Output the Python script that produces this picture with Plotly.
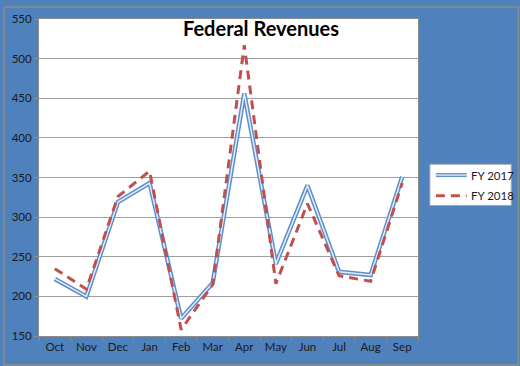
import plotly.graph_objects as go

months = ["Oct", "Nov", "Dec", "Jan", "Feb", "Mar", "Apr", "May", "Jun", "Jul", "Aug", "Sep"]
fy2017 = [222, 200, 319, 343, 172, 217, 456, 241, 340, 231, 227, 351]
fy2018 = [235, 209, 326, 358, 158, 215, 517, 216, 317, 226, 219, 343]
y_ticks = [150, 200, 250, 300, 350, 400, 450, 500, 550]

W, H = 520, 366
L, R, T, B = 36, 102, 13, 30
pw, ph = W - L - R, H - T - B

def px(x):
    return (x - L) / pw

def py(y):
    return (H - B - y) / ph

fig = go.Figure()
fig.add_trace(go.Scatter(x=months, y=fy2017, mode="lines", line=dict(color="#5F8FCB", width=4.5),
                         showlegend=False, hoverinfo="skip"))
fig.add_trace(go.Scatter(x=months, y=fy2017, mode="lines", line=dict(color="#E4ECF7", width=1.5),
                         name="FY 2017", showlegend=False))
fig.add_trace(go.Scatter(x=months, y=fy2018, mode="lines", line=dict(color="#C0504D", width=3, dash="9px,6px"),
                         name="FY 2018", showlegend=False))

font = "Lato, Calibri, Arial, sans-serif"
shapes = [
    # outer border
    dict(type="rect", xref="paper", yref="paper", x0=px(0.75), x1=px(W - 0.75), y0=py(H - 0.75), y1=py(0.75),
         line=dict(color="#8C8C8C", width=1.5), layer="below"),
    # legend box
    dict(type="rect", xref="paper", yref="paper", x0=px(430), x1=px(512), y0=py(203), y1=py(161),
         line=dict(color="#A6A6A6", width=1), fillcolor="white"),
    dict(type="line", xref="paper", yref="paper", x0=px(436), x1=px(467), y0=py(172), y1=py(172),
         line=dict(color="#5F8FCB", width=4)),
    dict(type="line", xref="paper", yref="paper", x0=px(436), x1=px(467), y0=py(172), y1=py(172),
         line=dict(color="#E4ECF7", width=1.3)),
    dict(type="line", xref="paper", yref="paper", x0=px(436), x1=px(467), y0=py(193), y1=py(193),
         line=dict(color="#C0504D", width=3, dash="9px,6px")),
]
annotations = [
    dict(text="<b>Federal Revenues</b>", xref="paper", yref="paper", x=px(260), y=py(22),
         showarrow=False, font=dict(family=font, size=20, color="black"), xanchor="center", yanchor="middle"),
    dict(text="FY 2017", xref="paper", yref="paper", x=px(469), y=py(172), showarrow=False,
         font=dict(family=font, size=11.5, color="#1A1A1A"), xanchor="left", yanchor="middle"),
    dict(text="FY 2018", xref="paper", yref="paper", x=px(469), y=py(193), showarrow=False,
         font=dict(family=font, size=11.5, color="#1A1A1A"), xanchor="left", yanchor="middle"),
]

fig.update_layout(
    width=W, height=H,
    margin=dict(l=L, r=R, t=T, b=B),
    paper_bgcolor="#4F81BD", plot_bgcolor="white",
    shapes=shapes, annotations=annotations,
    font=dict(family=font, size=11.5, color="#1A1A1A"),
    showlegend=False,
)
fig.update_xaxes(type="category", categoryorder="array", categoryarray=months,
                 showline=True, linecolor="#8C8C8C", linewidth=1, mirror=True,
                 ticks="outside", tickson="boundaries", ticklen=4, tickcolor="#8C8C8C",
                 showgrid=False, range=[-0.5, 11.5], fixedrange=True,
                 tickfont=dict(family=font, size=11.5, color="#1A1A1A"))
fig.update_yaxes(range=[150, 550], tickvals=y_ticks, ticktext=[str(v) for v in y_ticks],
                 showline=True, linecolor="#8C8C8C", linewidth=1, mirror=True,
                 ticks="outside", ticklen=4, tickcolor="#8C8C8C",
                 showgrid=True, gridcolor="#9E9E9E", gridwidth=1, zeroline=False, fixedrange=True,
                 tickfont=dict(family=font, size=11.5, color="#1A1A1A"))

fig.write_html("out.html", config={"displayModeBar": False},
               post_script="document.body.style.margin='0';document.body.style.overflow='hidden';")
